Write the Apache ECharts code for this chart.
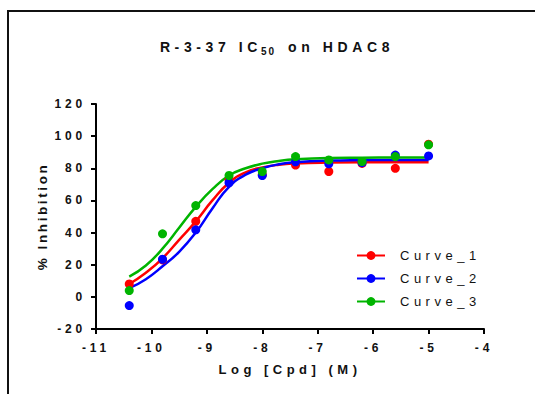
<!DOCTYPE html>
<html>
<head>
<meta charset="utf-8">
<script src="https://cdn.jsdelivr.net/npm/echarts@6/dist/echarts.min.js"></script>
<style>
  html, body { margin: 0; padding: 0; background: #fff; }
  #main { width: 535px; height: 394px; }
  /* the original uses wide letter spacing everywhere */
  #main text { letter-spacing: 4.5px; }
  #main text[style*="14px"] { letter-spacing: 4.6px; }
  #main text[style*="13.5px"] { letter-spacing: 2.6px; }
  #main text[style*="12px"] { letter-spacing: 3.8px; }
  #main text[style*="10px"] { letter-spacing: 2px; }
</style>
</head>
<body>
<div id="main"></div>
<script>
// measured concentrations (log M)
var logConc = [-10.4, -9.8, -9.2, -8.6, -8.0, -7.4, -6.8, -6.2, -5.6, -5.0];
var curve1Pts = [8, 23, 47, 73, 76, 82, 78, 83, 80, 95];
var curve2Pts = [-5.4, 23.4, 41.7, 71, 75.5, 84, 82.8, 83.5, 88.2, 87.7];
var curve3Pts = [3.9, 39.2, 56.8, 75.5, 78, 87.3, 85.2, 84.2, 87.3, 94.6];

// fitted curves
var fitX = [-10.4, -10.1, -9.8, -9.5, -9.2, -8.9, -8.6, -8.3, -8.0, -7.7, -7.4, -6.8, -6.2, -5.6, -5.0];
var curve1Fit = [8, 15, 24, 35.5, 47, 60, 71, 77.5, 80.5, 82.2, 83, 83.6, 83.8, 83.8, 83.8];
var curve2Fit = [5.4, 11, 19, 28, 40, 55, 68.5, 76, 80, 82.5, 83.8, 84.8, 85.1, 85.2, 85.2];
var curve3Fit = [12.6, 19.5, 30, 43, 56, 67, 75.5, 80, 82.9, 84.6, 85.6, 86.4, 86.6, 86.7, 86.7];

var names = ['Curve_1', 'Curve_2', 'Curve_3'];
var colors = ['#ff0000', '#0000ff', '#00b400'];

function pairs(xs, ys) {
    return xs.map(function (x, i) { return [x, ys[i]]; });
}

var fits = [curve1Fit, curve2Fit, curve3Fit];
var pts = [curve1Pts, curve2Pts, curve3Pts];

var series = [];
names.forEach(function (n, i) {
    series.push({
        name: n,
        type: 'line',
        smooth: true,
        symbol: 'circle',
        symbolSize: 8,
        showSymbol: false,
        data: pairs(fitX, fits[i]),
        lineStyle: { color: colors[i], width: 2.5 },
        itemStyle: { color: colors[i] },
        z: 2
    });
});
names.forEach(function (n, i) {
    series.push({
        name: n,
        type: 'scatter',
        symbol: 'circle',
        symbolSize: 9,
        data: pairs(logConc, pts[i]),
        itemStyle: { color: colors[i], opacity: 1 },
        z: 3
    });
});

var font = 'Liberation Sans, Arial, sans-serif';
var ink = '#111';
var chart = echarts.init(document.getElementById('main'), null, { renderer: 'svg' });
chart.setOption({
    backgroundColor: '#fff',
    animation: false,
    graphic: [
        {
            type: 'rect',
            shape: { x: 8, y: 11, width: 600, height: 500 },
            style: { fill: 'none', stroke: ink, lineWidth: 2 },
            silent: true
        },
        // title, split so the subscript can sit lower
        {
            type: 'text', x: 262, y: 47,
            style: { text: 'R-3-37 IC', font: 'bold 14px ' + font, fill: ink, align: 'right', verticalAlign: 'middle' }
        },
        {
            type: 'text', x: 261, y: 51,
            style: { text: '50', font: 'bold 10px ' + font, fill: ink, align: 'left', verticalAlign: 'middle' }
        },
        {
            type: 'text', x: 288, y: 47,
            style: { text: 'on HDAC8', font: 'bold 14px ' + font, fill: ink, align: 'left', verticalAlign: 'middle' }
        }
    ],
    legend: {
        data: names,
        orient: 'vertical',
        left: 351,
        top: 244,
        itemWidth: 28,
        itemHeight: 11,
        itemGap: 10,
        textStyle: { fontFamily: font, fontSize: 13, color: ink, padding: [0, 0, 0, 10] }
    },
    grid: { left: 96, right: 51, top: 104, bottom: 65 },
    xAxis: {
        type: 'value',
        min: -11,
        max: -4,
        interval: 1,
        name: 'Log [Cpd] (M)',
        nameLocation: 'middle',
        nameGap: 34,
        nameTextStyle: { fontFamily: font, fontWeight: 'bold', fontSize: 13, color: ink },
        axisLine: { onZero: false, lineStyle: { color: '#000', width: 2 } },
        axisTick: { length: 5, lineStyle: { color: '#000', width: 2 } },
        axisLabel: { fontFamily: font, fontWeight: 'bold', fontSize: 12, color: ink, margin: 13 },
        splitLine: { show: false }
    },
    yAxis: {
        type: 'value',
        min: -20,
        max: 120,
        interval: 20,
        name: '% Inhibition',
        nameLocation: 'middle',
        nameGap: 47,
        nameTextStyle: { fontFamily: font, fontWeight: 'bold', fontSize: 13.5, color: ink },
        axisLine: { show: true, onZero: false, lineStyle: { color: '#000', width: 2 } },
        axisTick: { show: true, length: 5, lineStyle: { color: '#000', width: 2 } },
        axisLabel: { fontFamily: font, fontWeight: 'bold', fontSize: 12, color: ink, margin: 10 },
        splitLine: { show: false }
    },
    series: series
});
</script>
</body>
</html>
